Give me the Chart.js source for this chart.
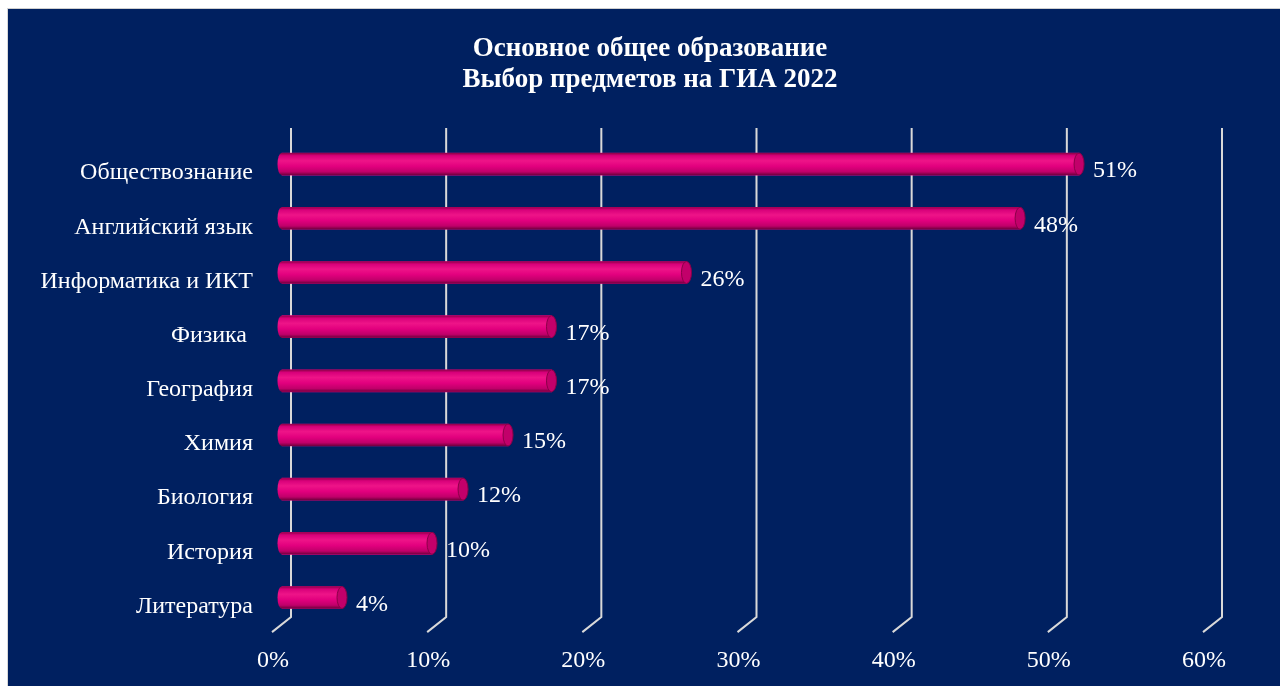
<!DOCTYPE html>
<html>
<head>
<meta charset="utf-8">
<script src="https://cdn.jsdelivr.net/npm/chart.js@4.4.1/dist/chart.umd.min.js"></script>
<style>
  html, body { margin: 0; padding: 0; background: #fff; overflow: hidden; }
  #frame {
    position: absolute; left: 7px; top: 8px; width: 1273px; height: 678px;
    border-top: 1px solid #cfcfcf; border-left: 1px solid #d8d8d8;
    background: #002060;
  }
  #wrap { position: absolute; left: 0; top: 0; width: 1272px; height: 677px; }
</style>
</head>
<body>
<div id="frame"><div id="wrap"><canvas id="chart"></canvas></div></div>
<script>
// data
const subjects = ['Обществознание', 'Английский язык', 'Информатика и ИКТ', 'Физика ', 'География', 'Химия', 'Биология', 'История', 'Литература'];
const shares = [51.4, 47.6, 26.1, 17.4, 17.4, 14.6, 11.7, 9.7, 3.9];
const shareLabels = ['51%', '48%', '26%', '17%', '17%', '15%', '12%', '10%', '4%'];
const xTicks = [0, 10, 20, 30, 40, 50, 60];

const FONT = '"Liberation Serif", "Times New Roman", serif';
const DEPTH = 9.5; // half of the 3d depth shift, px

// 3d style gridlines: back wall vertical, then a slant to the floor front
const wallGrid = {
    id: 'wallGrid',
    beforeDatasetsDraw(chart) {
        const ctx = chart.ctx;
        const xs = chart.scales.x;
        const area = chart.chartArea;
        ctx.save();
        ctx.strokeStyle = '#d9d9d9';
        ctx.lineWidth = 2;
        xTicks.forEach(v => {
            const px = xs.getPixelForValue(v);
            ctx.beginPath();
            ctx.moveTo(px + DEPTH, area.top - 9);
            ctx.lineTo(px + DEPTH, area.bottom - 7.5);
            ctx.lineTo(px - DEPTH, area.bottom + 7.5);
            ctx.stroke();
        });
        ctx.restore();
    }
};

// cylinder look for the bars + value labels
const cylinders = {
    id: 'cylinders',
    afterDatasetsDraw(chart) {
        const ctx = chart.ctx;
        const meta = chart.getDatasetMeta(0);
        ctx.save();
        meta.data.forEach((bar, i) => {
            const p = bar.getProps(['x', 'y', 'base', 'height'], true);
            const h = p.height, top = p.y - h / 2;
            const g = ctx.createLinearGradient(0, top, 0, top + h);
            g.addColorStop(0, '#8e0048');
            g.addColorStop(0.12, '#d8007a');
            g.addColorStop(0.35, '#ee1488');
            g.addColorStop(0.6, '#e2007e');
            g.addColorStop(0.85, '#c0006a');
            g.addColorStop(1, '#6e003c');
            ctx.fillStyle = g;
            ctx.beginPath();
            ctx.ellipse(p.base, p.y, 4, h / 2, 0, Math.PI / 2, Math.PI * 1.5);
            ctx.lineTo(p.x, top);
            ctx.lineTo(p.x, top + h);
            ctx.closePath();
            ctx.fill();
            // end cap
            ctx.beginPath();
            ctx.ellipse(p.x, p.y, 5, h / 2, 0, 0, Math.PI * 2);
            ctx.fillStyle = '#c2006a';
            ctx.fill();
            ctx.strokeStyle = '#8a0048';
            ctx.lineWidth = 1;
            ctx.stroke();
            // value label
            ctx.fillStyle = '#ffffff';
            ctx.font = '24px ' + FONT;
            ctx.textAlign = 'left';
            ctx.textBaseline = 'middle';
            ctx.fillText(shareLabels[i], p.x + 14, p.y + 7);
        });
        ctx.restore();
    }
};

const chart = new Chart(document.getElementById('chart'), {
    type: 'bar',
    data: {
        labels: subjects,
        datasets: [{
            data: shares,
            backgroundColor: '#e2007e',
            borderWidth: 0,
            barThickness: 22
        }]
    },
    options: {
        indexAxis: 'y',
        responsive: true,
        maintainAspectRatio: false,
        animation: false,
        layout: { padding: { left: 12, right: 0, top: 0, bottom: 0 } },
        plugins: {
            legend: { display: false },
            tooltip: { enabled: false },
            title: {
                display: true,
                text: ['Основное общее образование', 'Выбор предметов на ГИА 2022'],
                color: '#ffffff',
                font: { family: FONT, size: 27, weight: 'bold', lineHeight: 1.167 },
                padding: { top: 24.25, bottom: 40.75 }
            }
        },
        scales: {
            x: {
                min: 0,
                max: 60,
                afterFit(scale) { scale.height = 61.4; },
                afterBuildTicks(scale) { scale.ticks = xTicks.map(v => ({ value: v })); },
                grid: { display: false, drawTicks: false },
                border: { display: false },
                ticks: {
                    color: '#ffffff',
                    font: { family: FONT, size: 24 },
                    padding: 22,
                    labelOffset: -8.5,
                    maxRotation: 0,
                    callback: v => v + '%'
                }
            },
            y: {
                afterFit(scale) { scale.width = 261.5; },
                grid: { display: false, drawTicks: false },
                border: { display: false },
                ticks: {
                    color: '#ffffff',
                    font: { family: FONT, size: 24 },
                    padding: 28.5,
                    labelOffset: 9
                }
            },
            // empty right margin so the title stays centred like the original
            side: {
                type: 'linear',
                position: 'right',
                afterFit(scale) { scale.width = 67.5; },
                grid: { display: false, drawTicks: false },
                border: { display: false },
                ticks: { display: false }
            }
        }
    },
    plugins: [wallGrid, cylinders]
});
</script>
</body>
</html>
